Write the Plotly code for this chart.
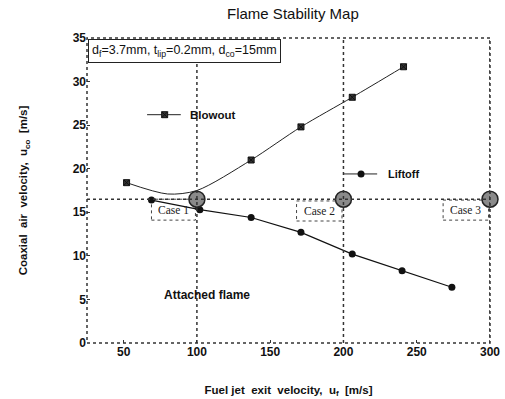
import plotly.graph_objects as go

# Data
blow_x = [52, 80, 100, 137, 171, 206, 241]
blow_y = [18.4, 17.1, 17.5, 21.0, 24.8, 28.2, 31.7]
blow_shown = [True, False, False, True, True, True, True]
lift_x = [69, 102, 137, 171, 206, 240, 274]
lift_y = [16.4, 15.3, 14.4, 12.7, 10.2, 8.3, 6.4]
case_x = [100, 200, 300]
case_y = [16.5, 16.5, 16.5]
case_labels = ["Case 1", "Case 2", "Case 3"]
x_ticks = [50, 100, 150, 200, 250, 300]
y_ticks = [0, 5, 10, 15, 20, 25, 30, 35]

FONT = "Liberation Sans, Arial, sans-serif"
fig = go.Figure()

# reference lines
fig.add_hline(y=16.5, line=dict(color="#333", width=1.5, dash="dot"))
for cx in case_x:
    fig.add_vline(x=cx, line=dict(color="#333", width=1.5, dash="dot"))

# case labels with dotted boxes (below the traces)
case_box = [(69, 99, 14.1, 16.5), (168, 199, 14.0, 16.3), (268, 299, 14.1, 16.4)]
for lab, (x0, x1, y0, y1) in zip(case_labels, case_box):
    fig.add_shape(type="rect", x0=x0, x1=x1, y0=y0, y1=y1,
                  line=dict(color="#444", width=1, dash="dot"), fillcolor="white", layer="below")
    fig.add_annotation(x=(x0 + x1) / 2, y=(y0 + y1) / 2, text=lab, showarrow=False,
                       font=dict(size=11.5, color="#222", family="Liberation Serif, serif"))

fig.add_trace(go.Scatter(x=blow_x, y=blow_y, mode="lines",
                         line=dict(color="#222", width=1, shape="spline", smoothing=0.8),
                         showlegend=False))
fig.add_trace(go.Scatter(x=[x for x, s in zip(blow_x, blow_shown) if s],
                         y=[y for y, s in zip(blow_y, blow_shown) if s], mode="markers",
                         marker=dict(symbol="square-x", size=6, color="#333",
                                     line=dict(color="#111", width=1)),
                         showlegend=False))
fig.add_trace(go.Scatter(x=lift_x, y=lift_y, mode="lines+markers",
                         line=dict(color="#111", width=1.2),
                         marker=dict(symbol="circle", size=7, color="#111"),
                         showlegend=False))
fig.add_trace(go.Scatter(x=case_x, y=case_y, mode="markers",
                         marker=dict(symbol="circle", size=16, color="#8a8a8a",
                                     line=dict(color="#222", width=1.5)),
                         cliponaxis=False, showlegend=False))

# legend-like entries
fig.add_trace(go.Scatter(x=[66, 89], y=[26.2, 26.2], mode="lines",
                         line=dict(color="#222", width=1), showlegend=False))
fig.add_trace(go.Scatter(x=[78], y=[26.2], mode="markers",
                         marker=dict(symbol="square-x", size=6, color="#333",
                                     line=dict(color="#111", width=1)), showlegend=False))
fig.add_annotation(x=94, y=26.2, text="<b>Blowout</b>", showarrow=False, xanchor="left",
                   font=dict(size=11.5, color="#111", family=FONT))
fig.add_trace(go.Scatter(x=[200, 223], y=[19.4, 19.4], mode="lines",
                         line=dict(color="#222", width=1), showlegend=False))
fig.add_trace(go.Scatter(x=[212], y=[19.4], mode="markers",
                         marker=dict(symbol="circle", size=7, color="#111"), showlegend=False))
fig.add_annotation(x=229, y=19.4, text="<b>Liftoff</b>", showarrow=False, xanchor="left",
                   font=dict(size=11, color="#111", family=FONT))

fig.add_annotation(x=107, y=5.5, text="<b>Attached flame</b>", showarrow=False,
                   font=dict(size=12, color="#111", family=FONT))

# parameter box
fig.add_annotation(xref="paper", yref="paper", x=0.003, y=0.997, xanchor="left", yanchor="top",
                   text="d<sub>f</sub>=3.7mm, t<sub>lip</sub>=0.2mm, d<sub>co</sub>=15mm",
                   showarrow=False, font=dict(size=12.5, color="#111", family=FONT),
                   bordercolor="#222", borderwidth=1, borderpad=3, bgcolor="white")

# frame
fig.add_shape(type="rect", xref="paper", yref="paper", x0=0, x1=1, y0=0, y1=1,
              line=dict(color="#333", width=1.5, dash="dot"), layer="above")

fig.update_layout(
    width=505, height=399,
    margin=dict(l=87, r=15, t=38, b=56),
    plot_bgcolor="white", paper_bgcolor="white",
    title=dict(text="Flame Stability Map", x=0.58, xanchor="center", y=0.965, yanchor="middle",
               font=dict(size=15, color="#111", family=FONT)),
    xaxis=dict(range=[25, 300], tickvals=x_ticks, ticktext=[f"<b>{v}</b>" for v in x_ticks],
               showgrid=False, zeroline=False, ticks="inside", ticklen=3, tickcolor="#333",
               automargin=False,
               tickfont=dict(size=12, color="#111", family=FONT),
               title=dict(text="<b>Fuel jet  exit  velocity,  u<sub>f</sub>  [m/s]</b>",
                          font=dict(size=11.5, color="#111", family=FONT), standoff=27)),
    yaxis=dict(range=[0, 35], tickvals=y_ticks, ticktext=[f"<b>{v}</b>" for v in y_ticks],
               showgrid=False, zeroline=False, ticks="inside", ticklen=3, tickcolor="#333",
               automargin=False,
               tickfont=dict(size=12, color="#111", family=FONT),
               title=dict(text="<b>Coaxial  air  velocity,  u<sub>co</sub>  [m/s]</b>",
                          font=dict(size=11.5, color="#111", family=FONT), standoff=42)),
)

fig.write_html("out.html")
